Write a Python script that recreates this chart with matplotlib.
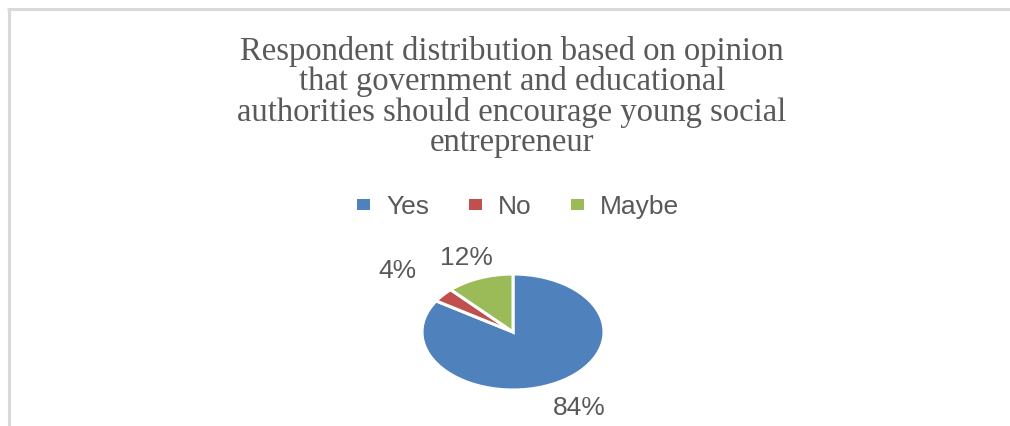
import numpy as np
import matplotlib
matplotlib.use("Agg")
import matplotlib.pyplot as plt
from matplotlib.lines import Line2D
from matplotlib.patches import Patch

## Data

labels = ["Yes", "No", "Maybe"]
shares = [84, 4, 12]
colors = ["#4F81BD", "#C0504D", "#9BBB59"]
title = ("Respondent distribution based on opinion\n"
         "that government and educational\n"
         "authorities should encourage young social\n"
         "entrepreneur")

# how far out each percentage sits (in pie radii)
label_dist = [1.5, 1.65, 1.38]

text_grey = "#595959"

fig = plt.figure(figsize=(10.1, 4.26), dpi=100)
fig.patch.set_facecolor("white")

## Chart frame (left and top edges only)

W, H = 1010.0, 426.0
fig.add_artist(Line2D([8.5 / W, 8.5 / W], [0, 1 - 8.5 / H], color="#d9d9d9", lw=2.2,
                      transform=fig.transFigure, solid_capstyle="butt"))
fig.add_artist(Line2D([7.4 / W, 1], [1 - 9 / H, 1 - 9 / H], color="#d9d9d9", lw=2.2,
                      transform=fig.transFigure, solid_capstyle="butt"))

## Title

fig.text(512 / W, 1 - 97 / H, title, ha="center", va="center", fontsize=23.5,
         family="Liberation Serif", color=text_grey, linespacing=0.98)

## Pie (stretched wide like the chart area)

cx, cy, rx, ry = 513, 332, 91, 58
ax = fig.add_axes([(cx - rx) / W, 1 - (cy + ry) / H, 2 * rx / W, 2 * ry / H])
wedges, _ = ax.pie(shares, colors=colors, startangle=90, counterclock=False,
                   wedgeprops=dict(edgecolor="white", linewidth=2.2))
ax.set_aspect("auto")
ax.set_xlim(-1, 1)
ax.set_ylim(-1, 1)
ax.axis("off")

for w, v, d in zip(wedges, shares, label_dist):
    mid = np.deg2rad((w.theta1 + w.theta2) / 2)
    ax.text(d * np.cos(mid), d * np.sin(mid), f"{v}%", ha="center", va="center",
            fontsize=19, family="Liberation Sans", color=text_grey, clip_on=False)

## Legend

handles = [Patch(facecolor=c, edgecolor="none") for c in colors]
leg = fig.legend(handles, labels, loc="center", bbox_to_anchor=(518 / W, 1 - 207 / H),
                 ncol=3, frameon=False, handlelength=0.5, handleheight=0.3,
                 handletextpad=0.6, columnspacing=1.5,
                 prop=dict(family="Liberation Sans", size=19))
for t in leg.get_texts():
    t.set_color(text_grey)

fig.savefig("out.png", dpi=100)
